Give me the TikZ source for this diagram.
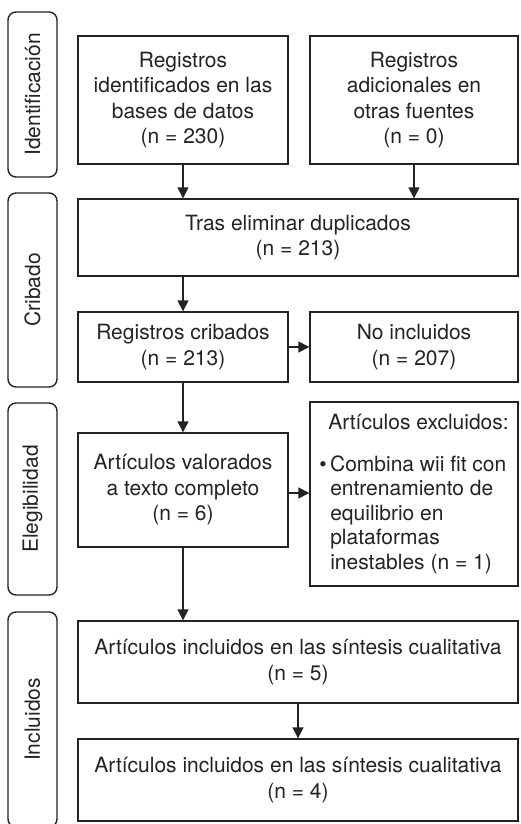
\documentclass[tikz,border=0pt]{standalone}
\usepackage{fontspec}
\setmainfont{TeX Gyre Heros}
\usetikzlibrary{arrows.meta}
\definecolor{ink}{HTML}{232323}
\begin{document}
\begin{tikzpicture}[x=1pt,y=-1pt,
  box/.style={draw=ink, line width=1.4pt, inner sep=0pt, align=center, text=ink,
    font=\fontsize{21}{25.5}\selectfont},
  phase/.style={draw=ink, line width=1.4pt, rounded corners=8pt, inner sep=0pt,
    minimum height=49pt, rotate=90, text=ink, font=\fontsize{21}{25.5}\selectfont},
  arr/.style={draw=ink, line width=1.4pt, -{Triangle[length=11pt,width=11pt]}}]
\useasboundingbox (0,0) rectangle (520,824);
\fill[white] (0,0) rectangle (520,824);
% phase labels
\node[phase, minimum width=165pt] (p1) at (32.5,94.5) {Identificación};
\node[phase, minimum width=194pt] (p2) at (32.5,290) {Cribado};
\node[phase, minimum width=192pt] (p3) at (32.5,499) {Elegibilidad};
\node[phase, minimum width=215pt] (p4) at (32.5,719.5) {Incluidos};
% boxes
\node[box, minimum width=210pt, minimum height=128pt] (A) at (183,100)
  {Registros\\identificados en las\\bases de datos\\(n = 230)};
\node[box, minimum width=208pt, minimum height=128pt] (B) at (414,100)
  {Registros\\adicionales en\\otras fuentes\\(n = 0)};
\node[box, minimum width=440pt, minimum height=77pt] (tras) at (298,237.5)
  {Tras eliminar duplicados\\(n = 213)};
\node[box, minimum width=210pt, minimum height=70pt] (crib) at (183,347)
  {Registros cribados\\(n = 213)};
\node[box, minimum width=208pt, minimum height=70pt] (noinc) at (414,347)
  {No incluidos\\(n = 207)};
\node[box, minimum width=210pt, minimum height=114pt] (val) at (183,490)
  {Artículos valorados\\a texto completo\\(n = 6)};
\node[box, minimum width=208pt, minimum height=184pt, align=left,
  font=\fontsize{21}{24.5}\selectfont] (excl) at (414,494)
  {\hspace*{9pt}Artículos excluidos:\\[17pt]
   \textbullet\hspace{3.5pt}Combina wii fit con\\
   \hspace*{11pt}entrenamiento de\\
   \hspace*{11pt}equilibrio en\\
   \hspace*{11pt}plataformas\\
   \hspace*{11pt}inestables (n = 1)};
\node[box, minimum width=440pt, minimum height=82pt] (inc5) at (298,662)
  {Artículos incluidos en las síntesis cualitativa\\(n = 5)};
\node[box, minimum width=440pt, minimum height=82pt] (inc4) at (298,780)
  {Artículos incluidos en las síntesis cualitativa\\(n = 4)};
% arrows
\draw[arr] (A.south) -- (A.south |- tras.north);
\draw[arr] (B.south) -- (B.south |- tras.north);
\draw[arr] (crib.north |- tras.south) -- (crib.north);
\draw[arr] (crib.east) -- (noinc.west);
\draw[arr] ([yshift=-3pt]val.east) -- ([yshift=-3pt]val.east -| excl.west);
\draw[arr] (crib.south) -- (val.north);
\draw[arr] (val.south) -- (val.south |- inc5.north);
\draw[arr] (inc5.south) -- (inc4.north);
\end{tikzpicture}
\end{document}
